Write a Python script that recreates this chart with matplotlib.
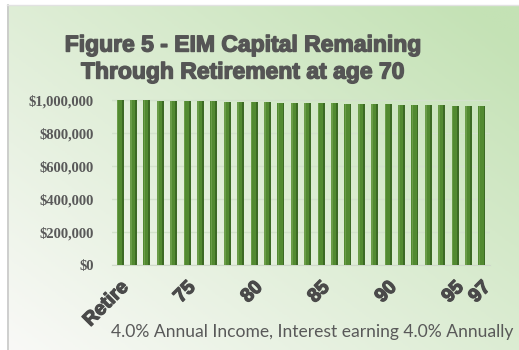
import numpy as np
import matplotlib.pyplot as plt
import matplotlib.patheffects as pe
from matplotlib.colors import LinearSegmentedColormap
from matplotlib.ticker import FuncFormatter

# data
ages = ['Retire'] + [str(a) for a in range(71, 98)]
shown = ['Retire', '75', '80', '85', '90', '95', '97']
capital = [1000000, 999000, 997800, 996500, 995200, 993800, 992500, 991100,
           989800, 988400, 987000, 985600, 984200, 982800, 981400, 980000,
           978600, 977200, 975800, 974400, 973000, 971600, 970200, 968800,
           967400, 966000, 964600, 963200]

W, H = 519, 350
fig = plt.figure(figsize=(W / 100, H / 100), dpi=100)
fig.patch.set_facecolor('white')

# background gradient: white lower-left -> light green upper-right
bg = fig.add_axes([7 / W, 0, 1 - 7 / W, 1 - 5 / H], zorder=-10)
yy, xx = np.mgrid[0:1:200j, 0:1:300j]
t = np.clip(0.55 * xx + 0.5 * (1 - yy), 0, 1)
cmap = LinearSegmentedColormap.from_list('g', ['#f9f9f7', '#c4e2b5'])
bg.imshow(t, cmap=cmap, aspect='auto', extent=[0, 1, 0, 1], origin='upper')
bg.set_axis_off()
fig.add_artist(plt.Line2D([7.5 / W, 7.5 / W], [0, 1 - 5 / H], color='#c8c8c8', lw=1.2))
fig.add_artist(plt.Line2D([7 / W, 1], [1 - 5 / H, 1 - 5 / H], color='#e2e2e2', lw=1))

ax = fig.add_axes([112 / W, 1 - 265 / H, 378 / W, 170 / H])
ax.set_facecolor('none')
x = np.arange(len(ages))
ax.bar(x, capital, width=0.52, color='#528a31', zorder=3)
ax.bar(x - 0.19, capital, width=0.12, color='#6a9c48', zorder=4)
ax.bar(x + 0.19, capital, width=0.14, color='#3c6a24', zorder=4)
ax.set_xlim(-0.6, len(ages) - 0.4)
ax.set_ylim(0, 1030000)
ax.set_yticks(range(0, 1000001, 200000))
ax.yaxis.set_major_formatter(FuncFormatter(lambda v, p: '${:,.0f}'.format(v)))
ax.grid(axis='y', color='#d3e2cc', lw=1, zorder=0)
for s in ['top', 'right', 'left']:
    ax.spines[s].set_visible(False)
ax.spines['bottom'].set_color('#cfd8ca')
ax.tick_params(length=0)
ax.tick_params(axis='y', pad=13)
for lab in ax.get_yticklabels():
    lab.set_fontfamily('Liberation Serif')
    lab.set_fontweight('bold')
    lab.set_fontsize(10.5)
    lab.set_color('#595959')
ax.set_xticks(x)
ax.set_xticklabels([a if a in shown else '' for a in ages], rotation=45,
                   ha='right', rotation_mode='anchor', fontsize=14,
                   fontweight='bold', color='#4a4a4a', family='Liberation Sans',
                   path_effects=[pe.withStroke(linewidth=0.9, foreground='#4a4a4a')])
ax.tick_params(axis='x', pad=10)

heavy = [pe.withStroke(linewidth=1.0, foreground='#555555')]
fig.text(0.467, 1 - 45 / H, 'Figure 5 - EIM Capital Remaining', ha='center', va='center',
         fontsize=16.5, fontweight='bold', color='#555555', family='Liberation Sans',
         path_effects=heavy)
fig.text(0.467, 1 - 72 / H, 'Through Retirement at age 70', ha='center', va='center',
         fontsize=16.5, fontweight='bold', color='#555555', family='Liberation Sans',
         path_effects=heavy)
fig.text(0.602, 1 - 332 / H, '4.0% Annual Income, Interest earning 4.0% Annually',
         ha='center', va='center', fontsize=12.6, color='#595959', family='Lato')

fig.savefig('out.png', dpi=100)
